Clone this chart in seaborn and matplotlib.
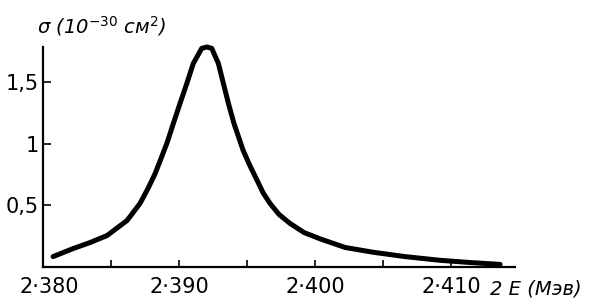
import matplotlib
matplotlib.use("Agg")
import matplotlib.pyplot as plt
import matplotlib.transforms as mtransforms
import seaborn as sns
import pandas as pd

# Data
energy = [2.38074, 2.38221, 2.38346, 2.38471, 2.38618, 2.38713, 2.38772,
          2.38824, 2.38868, 2.38910, 2.38958, 2.39007, 2.39057, 2.39105,
          2.39167, 2.39204, 2.39240, 2.39289, 2.39326, 2.39363, 2.39404,
          2.39471, 2.39518, 2.39574, 2.39618, 2.39669, 2.39735, 2.39816,
          2.39919, 2.40037, 2.40221, 2.40429, 2.40662, 2.40919, 2.41140,
          2.41360]
sigma = [0.085, 0.150, 0.199, 0.256, 0.378, 0.516, 0.638,
         0.758, 0.882, 1.002, 1.164, 1.327, 1.489, 1.652,
         1.774, 1.785, 1.774, 1.652, 1.489, 1.327, 1.164,
         0.947, 0.829, 0.703, 0.602, 0.516, 0.427, 0.354,
         0.280, 0.229, 0.159, 0.120, 0.085, 0.055, 0.037,
         0.022]
xtick_values = [2.380, 2.390, 2.400, 2.410]
xtick_labels = ["2·380", "2·390", "2·400", "2·410"]
xminor_values = [2.385, 2.395, 2.405]
ytick_values = [0.5, 1.0, 1.5]
ytick_labels = ["0,5", "1", "1,5"]

df = pd.DataFrame({"E": energy, "sigma": sigma})

sns.set_theme(style="ticks")
plt.rcParams["font.family"] = ["DejaVu Sans"]

fig = plt.figure(figsize=(6.0, 3.07), dpi=100)
ax = fig.add_axes([0.0717, 0.130, 0.7867, 0.717])

sns.lineplot(data=df, x="E", y="sigma", ax=ax, color="black", linewidth=3.6,
             solid_capstyle="round", solid_joinstyle="round")
for line in ax.lines:
    line.set_clip_on(False)

ax.set_xlim(2.380, 2.4147)
ax.set_ylim(0, 1.785)

ax.set_xticks(xtick_values)
ax.set_xticklabels(xtick_labels)
ax.set_xticks(xminor_values, minor=True)
ax.set_yticks(ytick_values)
ax.set_yticklabels(ytick_labels)

ax.tick_params(axis="x", which="both", direction="in", length=5, width=1.2,
               colors="black", labelsize=15, pad=7)
ax.tick_params(axis="y", direction="in", length=6, width=1.2,
               colors="black", labelsize=15, pad=3)

# first x label sits slightly to the right of the axis corner
first = ax.get_xticklabels()[0]
first.set_transform(first.get_transform() +
                    mtransforms.ScaledTranslation(6 / 100, 0, fig.dpi_scale_trans))

for s in ["top", "right"]:
    ax.spines[s].set_visible(False)
for s in ["left", "bottom"]:
    ax.spines[s].set_linewidth(1.6)
    ax.spines[s].set_color("black")

ax.set_xlabel("")
ax.set_ylabel("")

fig.text(0.062, 0.892, "σ (10$^{-30}$ см$^2$)", fontsize=14, style="italic",
         ha="left", va="baseline", color="black")
fig.text(0.817, 0.042, "2 E (Мэв)", fontsize=14, style="italic",
         ha="left", va="baseline", color="black")

fig.savefig("out.png", dpi=100, facecolor="white")
